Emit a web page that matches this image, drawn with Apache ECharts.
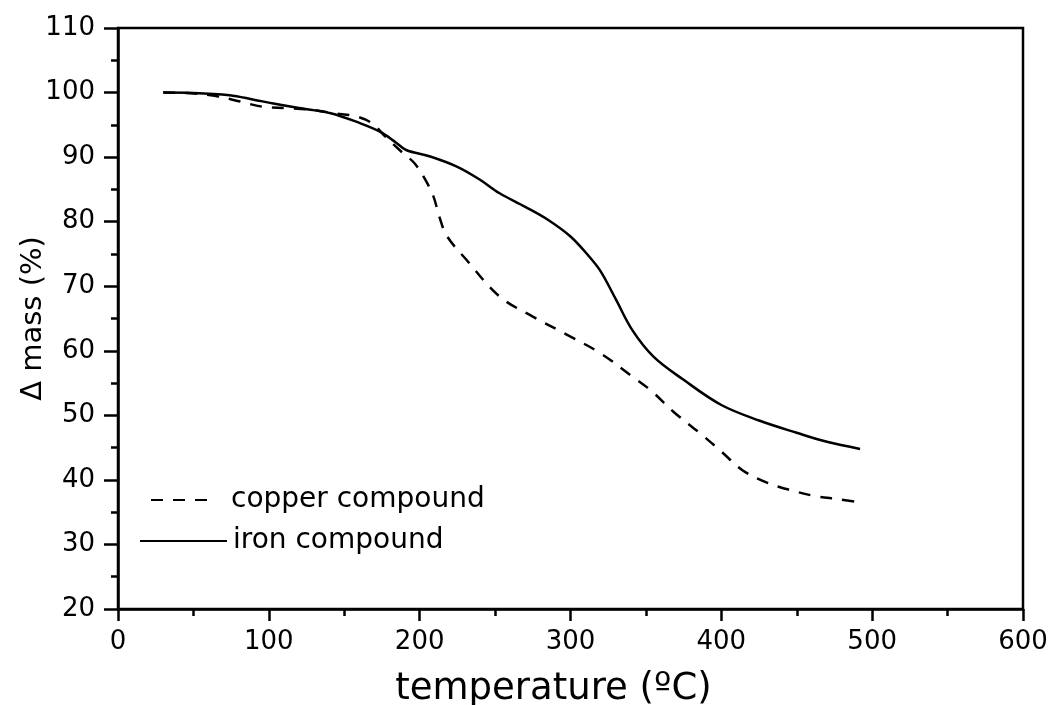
<!DOCTYPE html>
<html>
<head>
<meta charset="utf-8">
<script src="https://cdn.jsdelivr.net/npm/echarts@6/dist/echarts.min.js"></script>
<style>
    html, body { margin: 0; padding: 0; background: #fff; }
    #chart { width: 1053px; height: 705px; }
</style>
</head>
<body>
<div id="chart"></div>
<script>
// values
var copperTemp = [30, 48, 64, 81, 96, 112, 130, 143, 158, 168, 178, 189, 196, 202, 209, 213, 218, 231, 253, 275, 300, 320, 341, 354, 368, 386, 400, 414, 431, 446, 462, 478, 492];
var copperMass = [100, 99.9, 99.5, 98.6, 97.8, 97.6, 97.3, 96.8, 96.3, 95.3, 93.0, 90.6, 89.2, 87.2, 84.0, 80.8, 77.8, 74.1, 68.4, 65.3, 62.2, 59.6, 56.0, 53.7, 50.6, 47.2, 44.4, 41.5, 39.5, 38.4, 37.5, 37.0, 36.5];

var ironTemp = [30, 50, 74, 90, 103, 120, 141, 160, 174, 184, 191, 207, 225, 240, 253, 270, 285, 300, 312, 320, 330, 341, 355, 375, 400, 425, 450, 470, 492];
var ironMass = [100, 99.95, 99.6, 98.9, 98.3, 97.6, 96.8, 95.3, 93.9, 92.3, 91.1, 90.1, 88.5, 86.5, 84.4, 82.3, 80.3, 77.7, 74.7, 72.3, 68.0, 63.2, 59.1, 55.5, 51.6, 49.2, 47.3, 45.9, 44.8];

var seriesNames = ['copper compound', 'iron compound'];

function pairs(xs, ys) {
    return xs.map(function (x, i) { return [x, ys[i]]; });
}

var font = 'DejaVu Sans';
var chart = echarts.init(document.getElementById('chart'));

chart.setOption({
    animation: false,
    backgroundColor: '#fff',
    grid: {
        left: 118,
        right: 30,
        top: 28,
        bottom: 96,
        outerBoundsMode: 'none',
        containLabel: false,
        show: true,
        borderColor: '#000',
        borderWidth: 2.5
    },
    legend: [
        {
            data: [seriesNames[0]],
            left: 145,
            top: 481,
            padding: 5,
            itemWidth: 62,
            itemHeight: 14,
            itemStyle: { opacity: 0 },
            textStyle: { fontFamily: font, fontSize: 28, color: '#000', padding: [0, 0, 0, 13] }
        },
        {
            data: [seriesNames[1]],
            left: 134,
            top: 522,
            padding: 5,
            itemWidth: 87,
            itemHeight: 14,
            itemStyle: { opacity: 0 },
            textStyle: { fontFamily: font, fontSize: 28, color: '#000', padding: [0, 0, 0, 1] }
        }
    ],
    xAxis: {
        type: 'value',
        min: 0,
        max: 600,
        interval: 100,
        name: 'temperature (ºC)',
        nameLocation: 'middle',
        nameGap: 62,
        nameMoveOverlap: false,
        nameTextStyle: { fontFamily: font, fontSize: 37, color: '#000', padding: [0, 34, 0, 0] },
        axisLine: { lineStyle: { color: '#000', width: 2.5 } },
        axisTick: { inside: false, length: 12, lineStyle: { color: '#000', width: 2.5 } },
        minorTick: { show: true, splitNumber: 2, length: 7, lineStyle: { color: '#000', width: 2.5 } },
        axisLabel: { margin: 20, fontFamily: font, fontSize: 26, color: '#000' },
        splitLine: { show: false }
    },
    yAxis: {
        type: 'value',
        min: 20,
        max: 110,
        interval: 10,
        name: 'Δ mass (%)',
        nameLocation: 'middle',
        nameGap: 70,
        nameMoveOverlap: false,
        nameTextStyle: { fontFamily: font, fontSize: 29, color: '#000' },
        axisLine: { lineStyle: { color: '#000', width: 2.5 } },
        axisTick: { inside: false, length: 14, lineStyle: { color: '#000', width: 2.5 } },
        minorTick: { show: true, splitNumber: 2, length: 7, lineStyle: { color: '#000', width: 2.5 } },
        axisLabel: { margin: 23, fontFamily: font, fontSize: 26, color: '#000' },
        splitLine: { show: false }
    },
    series: [
        {
            name: seriesNames[0],
            type: 'line',
            data: pairs(copperTemp, copperMass),
            symbol: 'none',
            smooth: 0.35,
            lineStyle: { color: '#000', width: 2.5, type: [12, 10] },
            itemStyle: { color: '#000' }
        },
        {
            name: seriesNames[1],
            type: 'line',
            data: pairs(ironTemp, ironMass),
            symbol: 'none',
            smooth: 0.35,
            lineStyle: { color: '#000', width: 2.5, type: 'solid' },
            itemStyle: { color: '#000' }
        }
    ]
});
</script>
</body>
</html>
